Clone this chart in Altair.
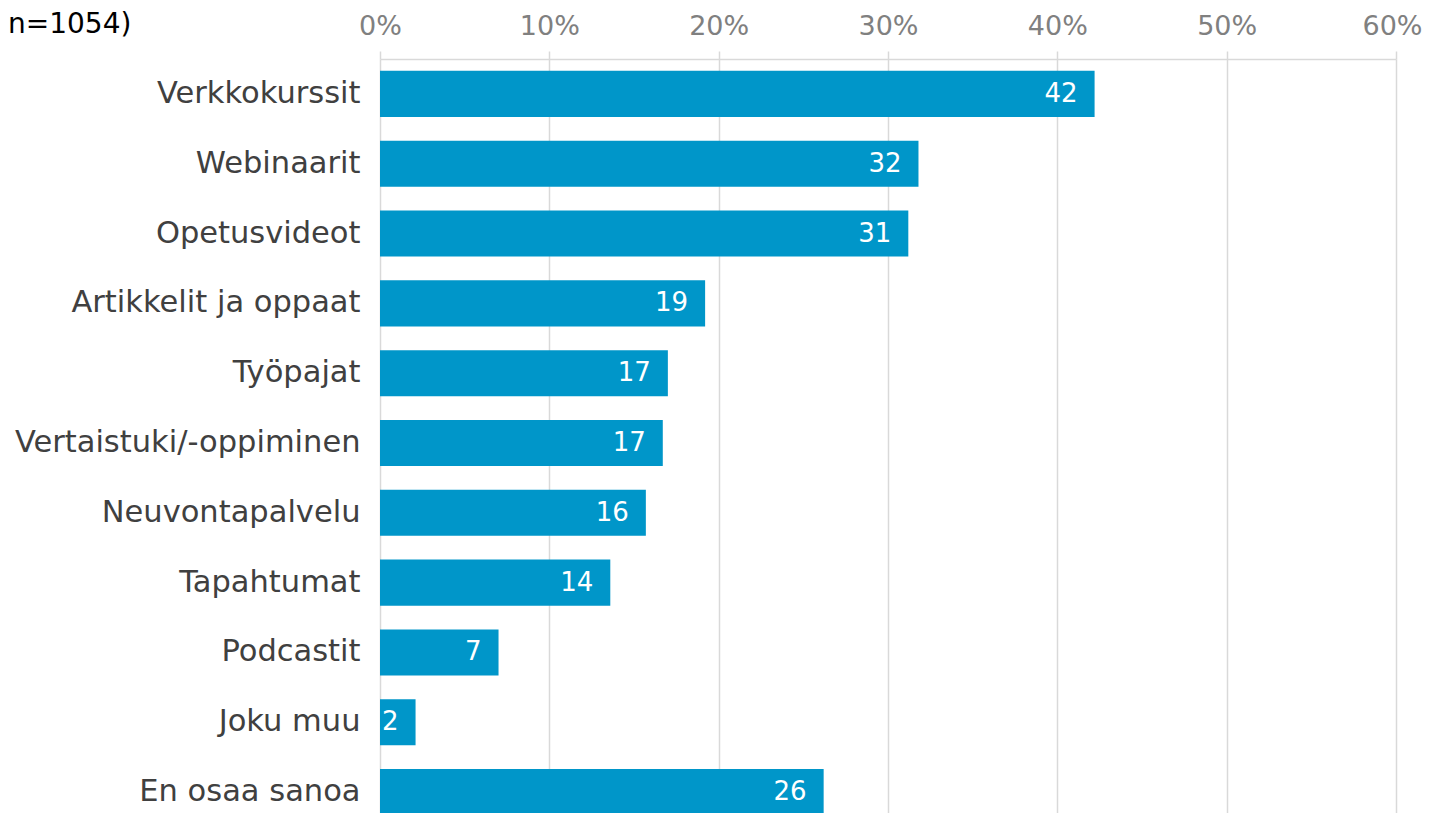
import altair as alt
import pandas as pd

categories = ["Verkkokurssit", "Webinaarit", "Opetusvideot", "Artikkelit ja oppaat",
              "Työpajat", "Vertaistuki/-oppiminen", "Neuvontapalvelu", "Tapahtumat",
              "Podcastit", "Joku muu", "En osaa sanoa"]
values = [42.2, 31.8, 31.2, 19.2, 17.0, 16.7, 15.7, 13.6, 7.0, 2.1, 26.2]
labels = ["42", "32", "31", "19", "17", "17", "16", "14", "7", "2", "26"]
tick_values = [0, 10, 20, 30, 40, 50, 60]
note = "n=1054)"

df = pd.DataFrame({"cat": categories, "val": values, "lab": labels})

FONT = "DejaVu Sans"
BAR = "#0096c9"
GRID = "#d9d9d9"

x = alt.X("val:Q",
          scale=alt.Scale(domain=[0, 60], nice=False),
          axis=alt.Axis(orient="top", values=tick_values, title=None,
                        labelExpr="datum.value + '%'",
                        labelFontSize=27, labelColor="#808080", labelFont=FONT,
                        labelPadding=11, labelFlush=False,
                        labelOffset=alt.ExprRef("datum.value == 60 ? -4 : 0"),
                        domain=True, domainColor=GRID, domainWidth=1.5,
                        ticks=True, tickColor=GRID, tickSize=8, tickWidth=1.5,
                        grid=True, gridColor=GRID, gridWidth=1.5))
y = alt.Y("cat:N", sort=categories,
          scale=alt.Scale(paddingInner=0.34, paddingOuter=0.17),
          axis=alt.Axis(title=None, domain=False, ticks=False,
                        labelFontSize=30.5, labelColor="#404040", labelFont=FONT,
                        labelPadding=20, labelLimit=600))

bars = alt.Chart(df).mark_bar(color=BAR).encode(x=x, y=y)
texts = alt.Chart(df).mark_text(align="right", baseline="middle", dx=-17,
                                color="white", fontSize=26, font=FONT).encode(
    x=alt.X("val:Q"), y=alt.Y("cat:N", sort=categories), text="lab:N")
title = alt.Chart(pd.DataFrame({"t": [note]})).mark_text(
    align="left", baseline="alphabetic", fontSize=28, font=FONT, color="#000000").encode(
    x=alt.value(-372), y=alt.value(-26), text="t:N")

chart = alt.layer(bars, texts, title).properties(
    width=1016, height=768,
    autosize=alt.AutoSizeParams(type="none"),
    padding={"left": 372, "top": 51, "right": 28, "bottom": -14},
).configure_view(stroke=None)

chart.save("out.html", embed_options={"renderer": "svg", "actions": False})
